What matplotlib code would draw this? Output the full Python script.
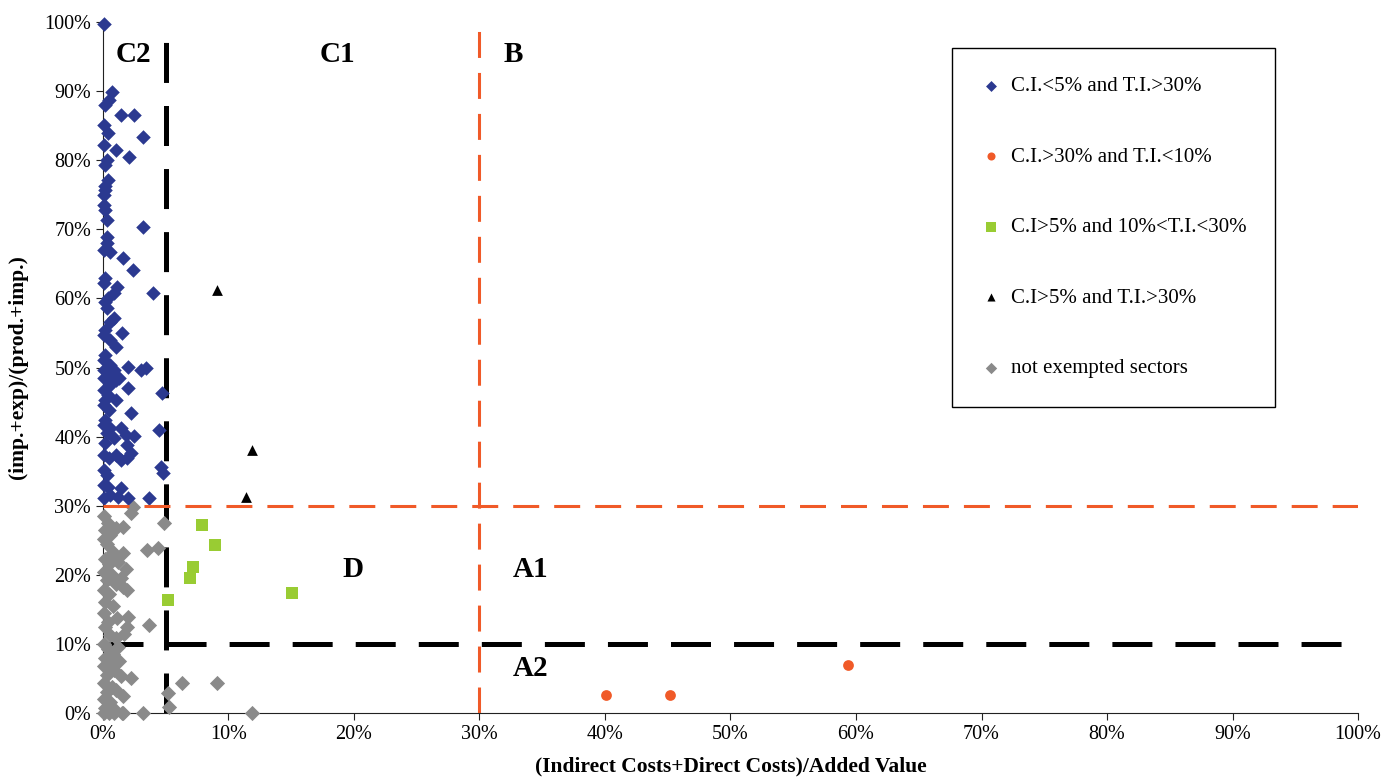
import matplotlib
matplotlib.use("Agg")
import matplotlib.pyplot as plt
from matplotlib.ticker import FuncFormatter

plt.rcParams["font.family"] = ["Liberation Serif", "DejaVu Serif"]
plt.rcParams["lines.scale_dashes"] = False

# C.I.<5% and T.I.>30%  (x = cost increase %, y = trade intensity %)
blue_x = [0.1, 0.7, 0.5, 0.2, 1.4, 2.5, 0.1, 0.4, 3.2, 0.1, 1.0, 2.1, 0.3, 0.2, 0.4,
          0.2, 0.2, 0.1, 0.1, 0.2, 0.3, 3.2, 0.3, 0.3, 0.1, 0.6, 1.6, 2.4, 0.2, 0.1,
          1.1, 0.9, 4.0, 0.4, 0.2, 0.3, 0.6, 0.9, 0.2, 0.1, 1.5, 0.6, 1.0, 0.2, 0.1,
          0.6, 2.0, 0.1, 3.0, 3.4, 0.9, 0.4, 0.1, 1.0, 1.3, 0.6, 2.0, 0.1, 4.7, 0.4,
          0.2, 1.0, 0.1, 0.5, 0.2, 2.2, 0.1, 1.4, 0.6, 4.5, 0.3, 1.8, 0.9, 2.5, 0.2,
          1.9, 0.1, 1.0, 2.2, 1.9, 1.4, 0.5, 4.6, 4.8, 0.1, 0.3, 0.1, 0.4, 1.4, 0.6,
          1.2, 3.7, 0.1, 2.0]
blue_y = [99.7, 89.9, 88.7, 88.0, 86.5, 86.5, 85.1, 83.9, 83.3, 82.2, 81.5, 80.5, 80.0, 79.3, 77.1,
          76.3, 75.7, 75.0, 73.5, 72.8, 71.3, 70.3, 68.9, 68.0, 67.0, 66.7, 65.8, 64.1, 63.0, 62.2,
          61.6, 60.8, 60.8, 60.1, 59.5, 58.6, 56.6, 57.2, 55.4, 54.7, 55.0, 54.0, 53.0, 51.8, 51.1,
          50.4, 50.1, 49.6, 49.6, 49.9, 49.6, 48.9, 48.5, 48.2, 48.5, 47.5, 47.0, 46.7, 46.3, 46.0,
          45.3, 45.3, 44.6, 43.8, 42.4, 43.4, 41.7, 41.2, 41.2, 41.0, 40.5, 40.2, 39.8, 40.1, 39.1,
          38.8, 37.3, 37.3, 37.6, 36.9, 36.6, 36.9, 35.6, 34.7, 35.2, 34.4, 33.0, 32.7, 32.6, 31.5,
          31.3, 31.1, 31.1, 31.1]

# C.I.>30% and T.I.<10%
orange_x = [40.1, 45.2, 59.4]
orange_y = [2.6, 2.6, 6.9]

# C.I>5% and 10%<T.I.<30%
green_x = [7.9, 8.9, 7.2, 6.9, 5.2, 15.1]
green_y = [27.2, 24.3, 21.1, 19.5, 16.4, 17.4]

# C.I>5% and T.I.>30%
black_x = [9.1, 11.9, 11.4]
black_y = [61.2, 38.1, 31.3]

# not exempted sectors
gray_x = [0.1, 0.4, 0.2, 0.6, 0.1, 1.0, 0.3, 0.8, 0.2, 0.5, 1.2, 0.1, 0.7, 1.4, 0.3,
          1.0, 0.1, 0.5, 1.6, 0.2, 0.8, 0.1, 0.4, 0.2, 0.6, 1.0, 0.1, 0.4, 0.8, 1.2,
          0.2, 0.6, 1.3, 0.1, 0.9, 0.3, 1.4, 0.1, 0.7, 0.3, 1.0, 0.1, 0.6, 1.6, 0.2,
          0.9, 0.1, 0.5, 0.9, 1.5, 1.7, 1.8, 2.2, 2.4, 1.6, 4.9, 3.5, 4.4, 1.6, 0.8,
          1.9, 3.7, 2.0, 1.9, 1.1, 2.2, 6.3, 9.1, 5.2, 5.3, 3.2, 11.9, 1.6]
gray_y = [28.5, 27.5, 26.5, 25.8, 25.2, 26.8, 24.5, 23.0, 22.3, 21.5, 21.8, 20.4, 20.0, 19.6, 19.2,
          18.7, 17.8, 17.2, 18.3, 16.0, 15.5, 14.5, 13.2, 12.4, 11.3, 10.8, 10.0, 9.2, 8.6, 9.5,
          8.0, 7.3, 7.6, 6.8, 6.2, 5.5, 5.4, 4.4, 3.8, 3.1, 3.3, 2.0, 1.6, 2.5, 0.8,
          0.6, 0.0, 0.0, 0.0, 0.0, 11.5, 20.8, 28.9, 29.8, 26.9, 27.5, 23.6, 23.9, 23.2, 23.3,
          17.8, 12.7, 13.9, 12.4, 13.7, 5.1, 4.3, 4.3, 2.9, 0.9, 0.0, 0.0, 0.0]

region_labels = ["C2", "C1", "B", "D", "A1", "A2"]
region_x = [2.4, 18.7, 32.7, 19.9, 34.1, 34.1]
region_y = [95.3, 95.3, 95.3, 20.8, 20.8, 6.4]

BLUE = "#2B3990"
ORANGE = "#F05A28"
GREEN = "#99CC33"
GRAY = "#8A8A8A"

fig = plt.figure(figsize=(13.95, 7.78), dpi=100)
ax = fig.add_axes([0.0738, 0.0835, 0.8997, 0.8882])

# threshold lines
ax.plot([5, 5], [0, 100], color="black", lw=3.6, dashes=(28.8, 16.6), zorder=2)
ax.plot([0, 100], [10, 10], color="black", lw=3.6, dashes=(28.8, 16.6), zorder=2)
ax.plot([30, 30], [0, 100], color=ORANGE, lw=2.2, dashes=(18.7, 10.8), zorder=4)
ax.plot([0, 100], [30, 30], color=ORANGE, lw=2.2, dashes=(18.7, 10.8), zorder=4)

ax.scatter(gray_x, gray_y, marker="D", s=60, color=GRAY, lw=0, zorder=3,
           clip_on=False, label="not exempted sectors")
ax.scatter(blue_x, blue_y, marker="D", s=55, color=BLUE, lw=0, zorder=3,
           clip_on=False, label="C.I.<5% and T.I.>30%")
ax.scatter(orange_x, orange_y, marker="o", s=60, color=ORANGE, lw=0, zorder=3,
           label="C.I.>30% and T.I.<10%")
ax.scatter(green_x, green_y, marker="s", s=80, color=GREEN, lw=0, zorder=3,
           label="C.I>5% and 10%<T.I.<30%")
ax.scatter(black_x, black_y, marker="^", s=60, color="black", lw=0, zorder=3,
           label="C.I>5% and T.I.>30%")

for lab, x, y in zip(region_labels, region_x, region_y):
    ax.text(x, y, lab, fontsize=21, fontweight="bold", ha="center", va="center")

ax.set_xlim(0, 100)
ax.set_ylim(0, 100)
ax.set_xticks(range(0, 101, 10))
ax.set_yticks(range(0, 101, 10))
pct = FuncFormatter(lambda v, _: f"{v:.0f}%")
ax.xaxis.set_major_formatter(pct)
ax.yaxis.set_major_formatter(pct)
ax.tick_params(labelsize=14.5, length=5, direction="out", colors="#222222")
ax.tick_params(labelcolor="black")
for s in ["top", "right"]:
    ax.spines[s].set_visible(False)
for s in ["left", "bottom"]:
    ax.spines[s].set_color("#222222")

ax.set_xlabel("(Indirect Costs+Direct Costs)/Added Value", fontsize=15.5,
              fontweight="bold", labelpad=9)
ax.set_ylabel("(imp.+exp)/(prod.+imp.)", fontsize=15.5, fontweight="bold", labelpad=12)

handles, labels = ax.get_legend_handles_labels()
order = [1, 2, 3, 4, 0]
leg = ax.legend([handles[i] for i in order], [labels[i] for i in order],
                loc="upper left", bbox_to_anchor=(0.6765, 0.962), borderaxespad=0,
                fontsize=15, markerscale=0.75, labelspacing=2.45, borderpad=1.35,
                handlelength=1.0, handletextpad=0.5, fancybox=False, framealpha=1,
                edgecolor="black")
leg.get_frame().set_linewidth(1.0)

fig.savefig("out.png", dpi=100)
